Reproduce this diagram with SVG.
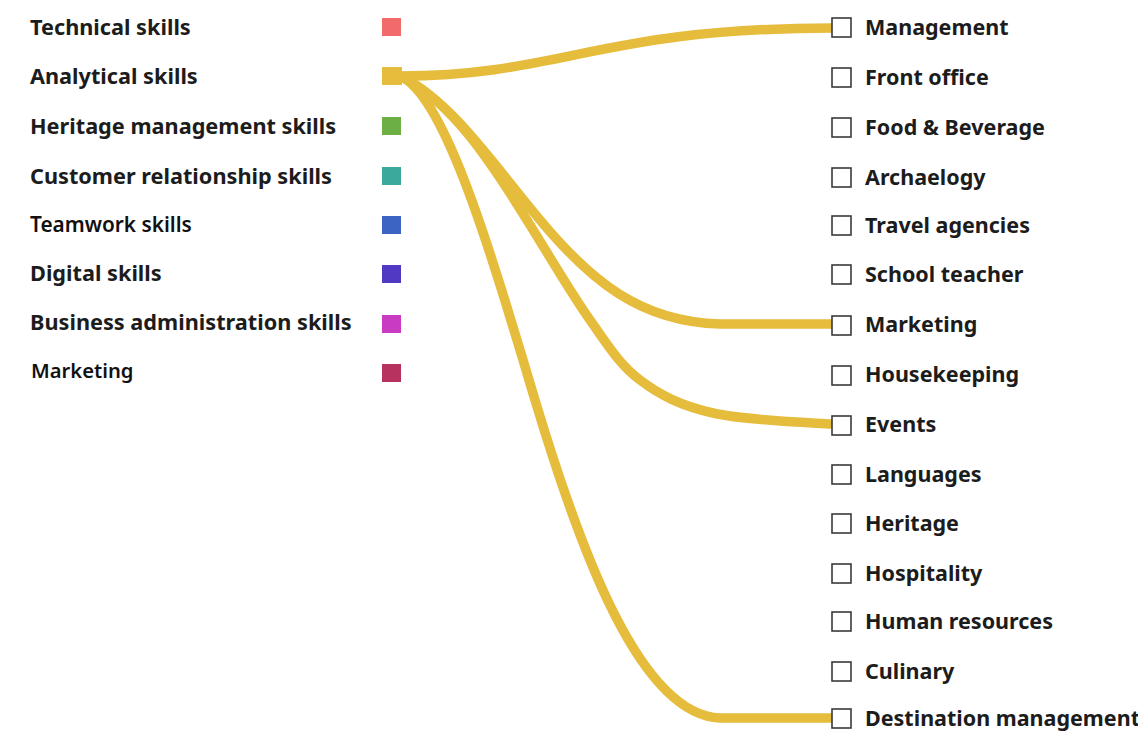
<svg xmlns="http://www.w3.org/2000/svg" width="1138" height="738" viewBox="0 0 1138 738">
  <style>
    .lbl { font-family: "Noto Sans", "Liberation Sans", sans-serif; font-weight: 700; fill: #1c1c1c; }
    .left { font-size: 21.7px; }
    .left.light { font-weight: 600; fill: #111; }
    .right { font-size: 21.5px; }
    .box { fill: #fff; stroke: #3a3a3a; stroke-width: 1.6; }
    .link { fill: none; stroke: #E5BC3C; stroke-width: 9.5; stroke-linecap: butt; }
  </style>
  <rect width="1138" height="738" fill="#fff"/>

  <!-- connectors: analytical skills to its job areas -->
  <g id="links">
    <path class="link" d="M400,76 C560,76 600,28 832,28"/>
    <path class="link" d="M400,76 C450,100 490,160 540,220 C590,280 640,322 720,324 L832,324"/>
    <path class="link" d="M400,76 C450,100 490,160 530,225 C546.7,251.7 571.7,294.2 590,320 C608.3,345.8 619.5,364.5 640,380 C660.5,395.5 681,405.7 713,413 C745,420.3 800.8,422.2 832,424"/>
    <path class="link" d="M400,76 C445,95 490,250 535,400 C580,550 640,715 720,718 L832,718"/>
  </g>

  <!-- skills (sources) -->
  <g id="skill-technical"><text class="lbl left" x="30" y="35">Technical skills</text><rect x="382" y="18" width="19" height="18" fill="#F26B6B"/></g>
  <g id="skill-analytical"><text class="lbl left" x="30" y="84">Analytical skills</text><rect x="382" y="67" width="20" height="18" fill="#E5BC3C"/></g>
  <g id="skill-heritage"><text class="lbl left" x="30" y="134">Heritage management skills</text><rect x="382" y="117" width="19" height="18" fill="#6BAF45"/></g>
  <g id="skill-customer"><text class="lbl left" x="30" y="184">Customer relationship skills</text><rect x="382" y="167" width="19" height="18" fill="#3BA99C"/></g>
  <g id="skill-teamwork"><text class="lbl left light" x="30" y="232" style="font-size:20.8px">Teamwork skills</text><rect x="382" y="216" width="19" height="18" fill="#3B64C3"/></g>
  <g id="skill-digital"><text class="lbl left" x="30" y="281">Digital skills</text><rect x="382" y="265" width="19" height="18" fill="#5139C4"/></g>
  <g id="skill-business"><text class="lbl left" x="30" y="330">Business administration skills</text><rect x="382" y="315" width="19" height="18" fill="#C93BC3"/></g>
  <g id="skill-marketing"><text class="lbl left light" x="31" y="378" style="font-size:20.2px">Marketing</text><rect x="382" y="364" width="19" height="18" fill="#B7325E"/></g>

  <!-- job areas (targets) -->
  <g id="job-management"><rect class="box" x="832" y="18" width="19" height="19"/><text class="lbl right" x="865" y="35">Management</text></g>
  <g id="job-front-office"><rect class="box" x="832" y="68" width="19" height="19"/><text class="lbl right" x="865" y="85">Front office</text></g>
  <g id="job-food"><rect class="box" x="832" y="118" width="19" height="19"/><text class="lbl right" x="865" y="135">Food &amp; Beverage</text></g>
  <g id="job-archaelogy"><rect class="box" x="832" y="168" width="19" height="19"/><text class="lbl right" x="865" y="185">Archaelogy</text></g>
  <g id="job-travel"><rect class="box" x="832" y="216" width="19" height="19"/><text class="lbl right" x="865" y="233">Travel agencies</text></g>
  <g id="job-school"><rect class="box" x="832" y="265" width="19" height="19"/><text class="lbl right" x="865" y="282">School teacher</text></g>
  <g id="job-marketing"><rect class="box" x="832" y="316" width="19" height="19"/><text class="lbl right" x="865" y="332">Marketing</text></g>
  <g id="job-housekeeping"><rect class="box" x="832" y="366" width="19" height="19"/><text class="lbl right" x="865" y="382">Housekeeping</text></g>
  <g id="job-events"><rect class="box" x="832" y="416" width="19" height="19"/><text class="lbl right" x="865" y="432">Events</text></g>
  <g id="job-languages"><rect class="box" x="832" y="465" width="19" height="19"/><text class="lbl right" x="865" y="482">Languages</text></g>
  <g id="job-heritage"><rect class="box" x="832" y="514" width="19" height="19"/><text class="lbl right" x="865" y="531">Heritage</text></g>
  <g id="job-hospitality"><rect class="box" x="832" y="564" width="19" height="19"/><text class="lbl right" x="865" y="581">Hospitality</text></g>
  <g id="job-human-resources"><rect class="box" x="832" y="612" width="19" height="19"/><text class="lbl right" x="865" y="629">Human resources</text></g>
  <g id="job-culinary"><rect class="box" x="832" y="662" width="19" height="19"/><text class="lbl right" x="865" y="679">Culinary</text></g>
  <g id="job-destination"><rect class="box" x="832" y="709" width="19" height="19"/><text class="lbl right" x="865" y="726">Destination management</text></g>
</svg>
